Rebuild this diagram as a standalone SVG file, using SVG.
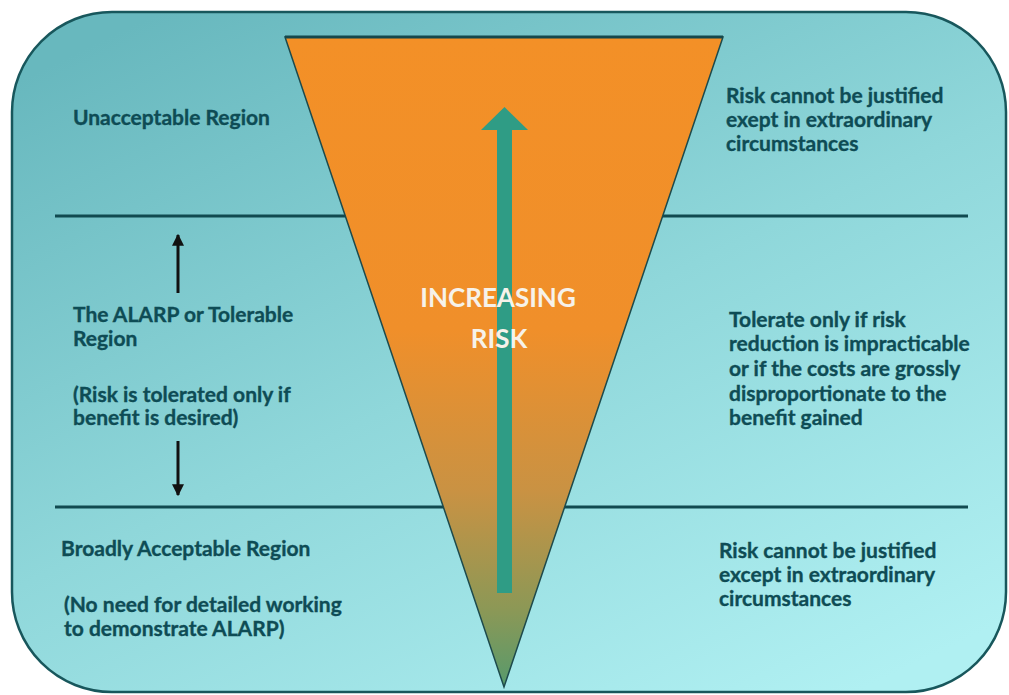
<svg xmlns="http://www.w3.org/2000/svg" width="1009" height="695" viewBox="0 0 1009 695">
  <defs>
    <linearGradient id="bgGrad" x1="0.15" y1="0" x2="0.85" y2="1">
      <stop offset="0" stop-color="#68b8be"/>
      <stop offset="0.5" stop-color="#8fd7da"/>
      <stop offset="1" stop-color="#b0f0f2"/>
    </linearGradient>
    <linearGradient id="triGrad" x1="0" y1="37" x2="0" y2="687" gradientUnits="userSpaceOnUse">
      <stop offset="0" stop-color="#f39027"/>
      <stop offset="0.45" stop-color="#f08f2a"/>
      <stop offset="0.7" stop-color="#c99243"/>
      <stop offset="0.88" stop-color="#8c9856"/>
      <stop offset="1" stop-color="#579a6c"/>
    </linearGradient>
    <marker id="blackHead" viewBox="0 0 10 10" refX="9" refY="5" markerWidth="4" markerHeight="4" orient="auto" markerUnits="strokeWidth">
      <path d="M0,0 L10,5 L0,10 Z" fill="#111"/>
    </marker>
  </defs>
  <style>
    .lbl { font-family: Lato, "Liberation Sans", sans-serif; font-weight: 700; font-size: 21px; fill: #0e4c55; stroke: #0e4c55; stroke-width: 0.35px; }
    .big { font-family: Lato, "Liberation Sans", sans-serif; font-weight: 700; font-size: 26px; fill: #f6f2ea; text-anchor: middle; }
    .divider { stroke: #114a50; stroke-width: 3; fill: none; }
    .blk { stroke: #111; stroke-width: 3; fill: none; marker-end: url(#blackHead); }
  </style>

  <g id="background">
    <rect x="12" y="12" width="994" height="680" rx="100" ry="100" fill="url(#bgGrad)" stroke="#18575c" stroke-width="2.5"/>
  </g>

  <g id="dividers">
    <line class="divider" x1="55" y1="216" x2="968" y2="216"/>
    <line class="divider" x1="55" y1="507" x2="968" y2="507"/>
  </g>

  <g id="risk-triangle">
    <polygon points="285,37 723,37 504,687" fill="url(#triGrad)" stroke="#1d4a4c" stroke-width="1.5" stroke-linejoin="miter"/>
    <line x1="285" y1="37" x2="723" y2="37" stroke="#15484c" stroke-width="3"/>
  </g>

  <g id="increasing-arrow">
    <rect x="497" y="128" width="15" height="465" fill="#2f9c85"/>
    <polygon points="504.5,107 528,130 481,130" fill="#2f9c85"/>
  </g>

  <g id="connectors">
    <line class="blk" x1="178" y1="293" x2="178" y2="235"/>
    <line class="blk" x1="178" y1="441" x2="178" y2="495"/>
  </g>

  <g id="increasing-risk-label">
    <text class="big" x="498" y="307">INCREASING</text>
    <text class="big" x="499" y="348">RISK</text>
  </g>

  <g id="unacceptable-region">
    <text class="lbl" x="73" y="125">Unacceptable Region</text>
  </g>

  <g id="unacceptable-note">
    <text class="lbl" x="726" y="103">Risk cannot be justified</text>
    <text class="lbl" x="726" y="127">exept in extraordinary</text>
    <text class="lbl" x="726" y="151">circumstances</text>
  </g>

  <g id="alarp-region">
    <text class="lbl" x="73" y="322">The ALARP or Tolerable</text>
    <text class="lbl" x="73" y="346">Region</text>
    <text class="lbl" x="73" y="402">(Risk is tolerated only if</text>
    <text class="lbl" x="73" y="425">benefit is desired)</text>
  </g>

  <g id="alarp-note">
    <text class="lbl" x="729" y="327">Tolerate only if risk</text>
    <text class="lbl" x="729" y="351">reduction is impracticable</text>
    <text class="lbl" x="729" y="376">or if the costs are grossly</text>
    <text class="lbl" x="729" y="401">disproportionate to the</text>
    <text class="lbl" x="729" y="425">benefit gained</text>
  </g>

  <g id="broadly-acceptable-region">
    <text class="lbl" x="61" y="556">Broadly Acceptable Region</text>
    <text class="lbl" x="64" y="612">(No need for detailed working</text>
    <text class="lbl" x="64" y="636">to demonstrate ALARP)</text>
  </g>

  <g id="broadly-acceptable-note">
    <text class="lbl" x="719" y="558">Risk cannot be justified</text>
    <text class="lbl" x="719" y="582">except in extraordinary</text>
    <text class="lbl" x="719" y="606">circumstances</text>
  </g>
</svg>
